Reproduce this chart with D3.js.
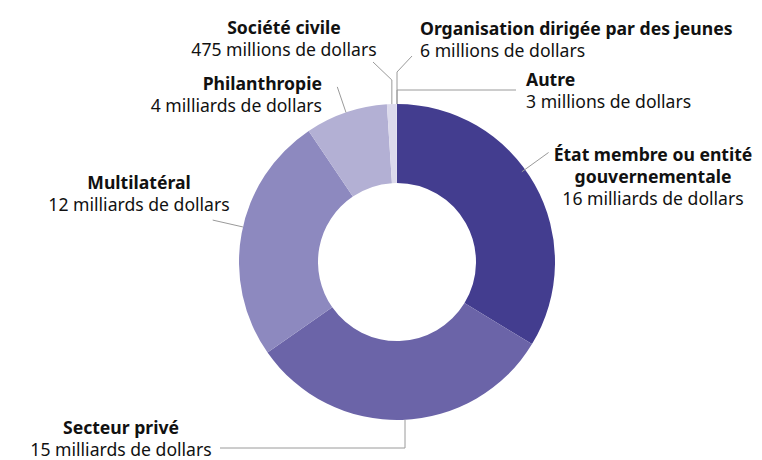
<!DOCTYPE html>
<html>
<head>
<meta charset="utf-8">
<script src="https://cdn.jsdelivr.net/npm/d3@7"></script>
<style>
  html, body { margin: 0; padding: 0; background: #fff; }
  svg text { font-family: "Noto Sans", "Open Sans", sans-serif; fill: #111; }
  .t { font-weight: 700; }
</style>
</head>
<body>
<svg id="chart" width="762" height="460"></svg>
<script>
// ---- data ----
const categories = [
  "État membre ou entité gouvernementale",
  "Secteur privé",
  "Multilatéral",
  "Philanthropie",
  "Société civile",
  "Organisation dirigée par des jeunes",
  "Autre"
];
const values = [16, 15, 12, 4, 0.475, 0.006, 0.003]; // milliards de dollars
const valueLabels = [
  "16 milliards de dollars",
  "15 milliards de dollars",
  "12 milliards de dollars",
  "4 milliards de dollars",
  "475 millions de dollars",
  "6 millions de dollars",
  "3 millions de dollars"
];
const titleLines = [
  ["État membre ou entité", "gouvernementale"],
  ["Secteur privé"],
  ["Multilatéral"],
  ["Philanthropie"],
  ["Société civile"],
  ["Organisation dirigée par des jeunes"],
  ["Autre"]
];
const colors = ["#433d8f", "#6b64a8", "#8d89bf", "#b3b0d4", "#dcdaec", "#e6e5f1", "#ecebf5"];

// ---- layout ----
const W = 762, H = 460;
const cx = 397, cy = 262, rOuter = 158, rInner = 79;
const lineH = 22;
const fontSize = 17.6;
// label anchors: x, first baseline y, text-anchor
const labelPos = [
  {x: 653, y: 161, anchor: "middle"},
  {x: 121, y: 434, anchor: "middle"},
  {x: 139, y: 189, anchor: "middle"},
  {x: 322, y: 90, anchor: "end"},
  {x: 284, y: 34, anchor: "middle"},
  {x: 420, y: 35, anchor: "start"},
  {x: 526, y: 86, anchor: "start"}
];
// leader routes
const leaders = [
  {angOff: -6.5, radial: [154, 187]},
  {angOff: 1.2, pts: [[405, 448], [220, 448]], vertical: true},
  {angOff: 2.3, radial: [158, 189]},
  {angOff: 0, radial: [158, 185]},
  {angOff: 0, pts: [[null, 80], [373, 62]], vertical: true},
  {angOff: 0, pts: [[null, 72], [412, 56]], vertical: true, xFix: 397},
  {angOff: 0, pts: [[null, 90], [516, 90]], vertical: true, xFix: 397}
];

const svg = d3.select("#chart");
const g = svg.append("g").attr("transform", `translate(${cx},${cy})`);

const pie = d3.pie().sort(null).value(d => d).startAngle(0).endAngle(2 * Math.PI);
const arcs = pie(values);
const arc = d3.arc().innerRadius(rInner).outerRadius(rOuter);

g.selectAll("path.slice")
  .data(arcs)
  .join("path")
  .attr("class", "slice")
  .attr("d", arc)
  .attr("fill", (d, i) => colors[i]);

// leader lines
const pol = (a, r) => [cx + r * Math.sin(a), cy - r * Math.cos(a)];
arcs.forEach((d, i) => {
  const L = leaders[i];
  const mid = (d.startAngle + d.endAngle) / 2 + L.angOff * Math.PI / 180;
  let points;
  if (L.radial) {
    points = [pol(mid, L.radial[0]), pol(mid, L.radial[1])];
  } else {
    let start = pol(mid, rOuter);
    if (L.xFix !== undefined) start = [L.xFix, cy - Math.sqrt(rOuter * rOuter - (L.xFix - cx) ** 2)];
    if (L.pts[0][0] !== null && L.vertical) start = [L.pts[0][0], cy - Math.sqrt(rOuter * rOuter - (L.pts[0][0] - cx) ** 2) * Math.sign(Math.cos(mid))];
    points = [start];
    L.pts.forEach(p => points.push([p[0] === null ? start[0] : p[0], p[1]]));
  }
  svg.append("path")
    .attr("d", d3.line()(points))
    .attr("fill", "none")
    .attr("stroke", "#9a9a9a")
    .attr("stroke-width", 1);
});

// labels
categories.forEach((c, i) => {
  const p = labelPos[i];
  const t = svg.append("text").attr("text-anchor", p.anchor).attr("font-size", fontSize);
  titleLines[i].forEach((ln, k) => {
    t.append("tspan").attr("class", "t").attr("x", p.x).attr("y", p.y + k * lineH).text(ln);
  });
  t.append("tspan").attr("x", p.x).attr("y", p.y + titleLines[i].length * lineH).text(valueLabels[i]);
});
</script>
</body>
</html>
